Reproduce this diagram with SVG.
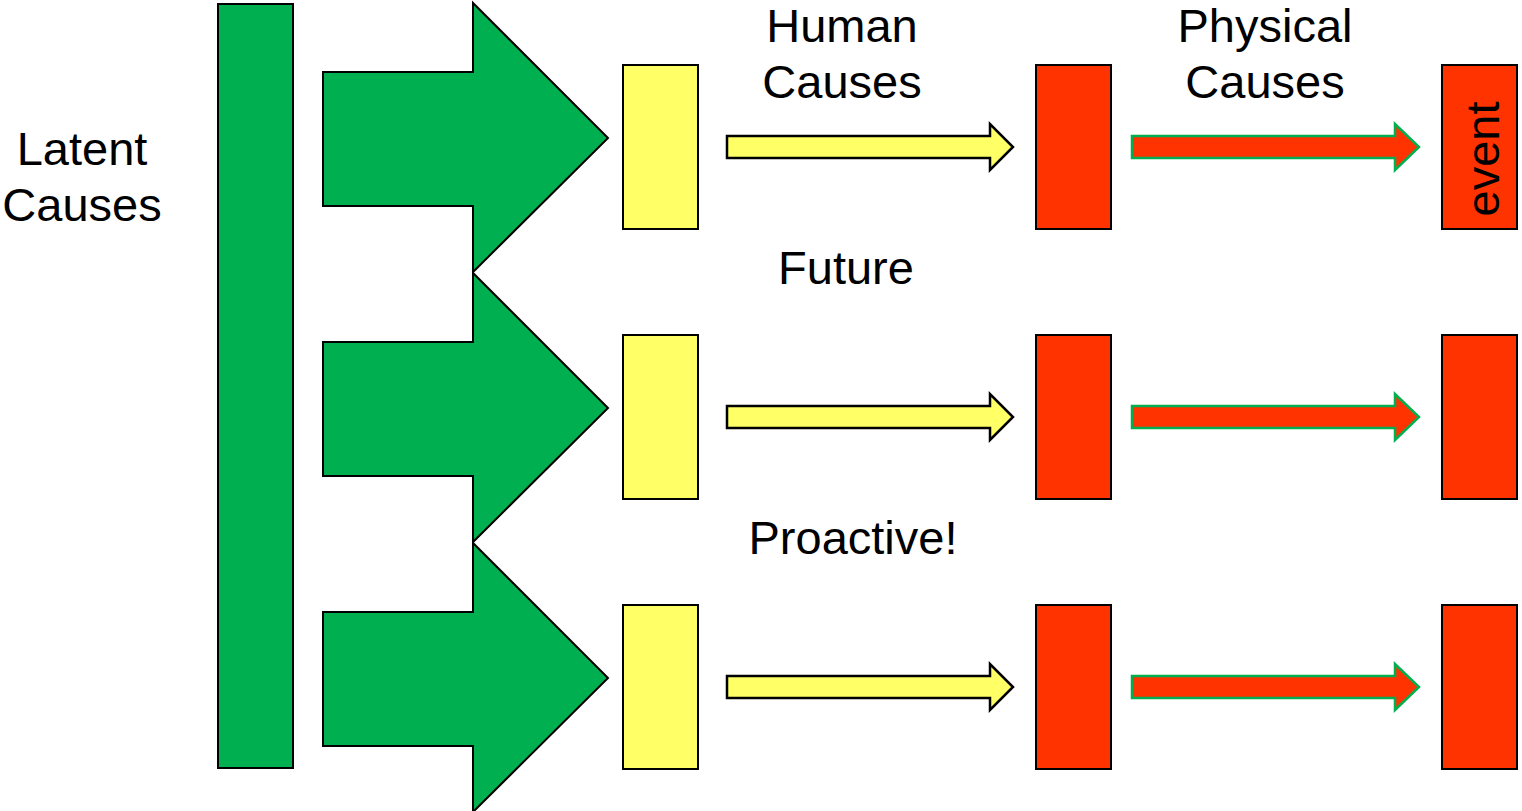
<svg xmlns="http://www.w3.org/2000/svg" width="1522" height="811" viewBox="0 0 1522 811">
<style>
.lbl{font-family:"Liberation Sans",Arial,sans-serif;font-size:47px;fill:#000;text-anchor:middle}
.grn{fill:#00B050;stroke:#000;stroke-width:2}
.yel{fill:#FFFF66;stroke:#000;stroke-width:2}
.red{fill:#FF3300;stroke:#000;stroke-width:2}
.yarr{fill:#FFFF66;stroke:#000;stroke-width:2.5}
.rarr{fill:#FF3300;stroke:#00B050;stroke-width:2.5}
</style>
<rect width="1522" height="811" fill="#fff"/>
<g id="latent-bar"><rect class="grn" x="218" y="4" width="75" height="764"/></g>
<g id="latent-label"><text class="lbl" x="82" y="165">Latent</text><text class="lbl" x="82" y="221">Causes</text></g>
<g id="human-label"><text class="lbl" x="842" y="42">Human</text><text class="lbl" x="842" y="98">Causes</text></g>
<g id="physical-label"><text class="lbl" x="1265" y="42">Physical</text><text class="lbl" x="1265" y="98">Causes</text></g>
<g id="future-label"><text class="lbl" x="846" y="284">Future</text></g>
<g id="proactive-label"><text class="lbl" x="853" y="554">Proactive!</text></g>
<g id="y1"><rect class="yel" x="623" y="65" width="75" height="164"/></g>
<g id="y2"><rect class="yel" x="623" y="335" width="75" height="164"/></g>
<g id="y3"><rect class="yel" x="623" y="605" width="75" height="164"/></g>
<g id="r1"><rect class="red" x="1036" y="65" width="75" height="164"/></g>
<g id="r2"><rect class="red" x="1036" y="335" width="75" height="164"/></g>
<g id="r3"><rect class="red" x="1036" y="605" width="75" height="164"/></g>
<g id="e1"><rect class="red" x="1442" y="65" width="75" height="164"/><text class="lbl" transform="translate(1499,159) rotate(-90)">event</text></g>
<g id="e2"><rect class="red" x="1442" y="335" width="75" height="164"/></g>
<g id="e3"><rect class="red" x="1442" y="605" width="75" height="164"/></g>
<g id="connectors">
<path class="grn" d="M323,72 H473 V3 L608,138 L473,272 V206 H323 Z"/>
<path class="grn" d="M323,342 H473 V273 L608,408 L473,542 V476 H323 Z"/>
<path class="grn" d="M323,612 H473 V543 L608,678 L473,812 V746 H323 Z"/>
<path class="yarr" d="M727,136 H990 V124 L1013,147 L990,170 V158 H727 Z"/>
<path class="yarr" d="M727,406 H990 V394 L1013,417 L990,440 V428 H727 Z"/>
<path class="yarr" d="M727,676 H990 V664 L1013,687 L990,710 V698 H727 Z"/>
<path class="rarr" d="M1132,136 H1395 V124 L1419,147 L1395,170 V158 H1132 Z"/>
<path class="rarr" d="M1132,406 H1395 V394 L1419,417 L1395,440 V428 H1132 Z"/>
<path class="rarr" d="M1132,676 H1395 V664 L1419,687 L1395,710 V698 H1132 Z"/>
</g>
</svg>
